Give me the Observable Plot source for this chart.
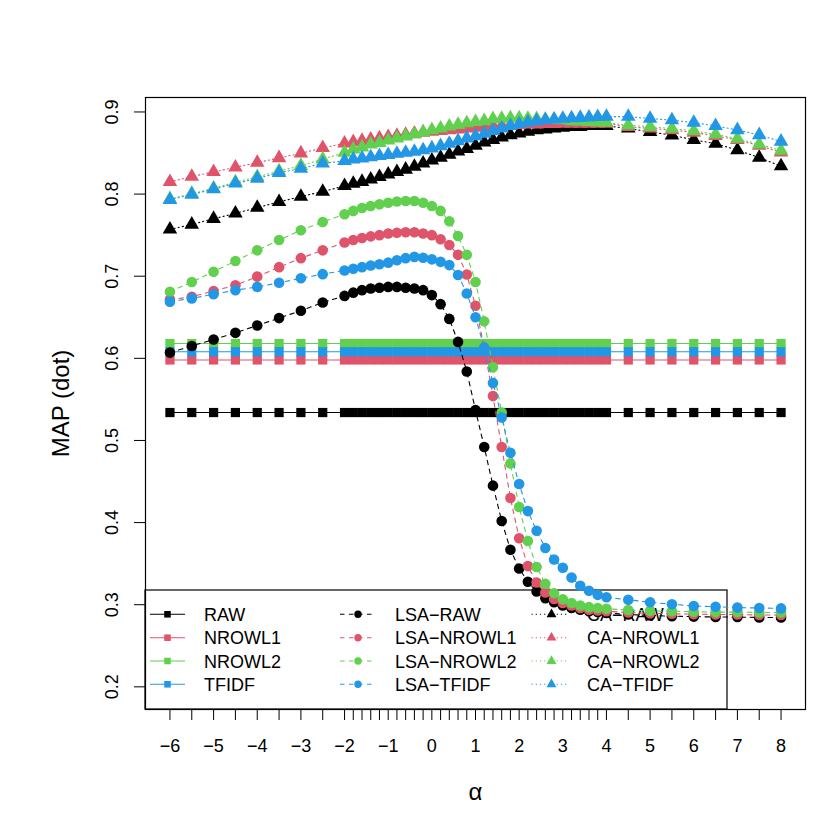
<!DOCTYPE html>
<html>
<head>
<meta charset="utf-8">
<script src="https://cdn.jsdelivr.net/npm/d3@7"></script>
<script src="https://cdn.jsdelivr.net/npm/@observablehq/plot@0.6"></script>
<style>
  html, body { margin: 0; padding: 0; background: #fff; }
  #chart svg { display: block; }
</style>
</head>
<body>
<div id="chart"></div>
<script>
// ---------------- data ----------------
const alpha = [
  -6, -5.5, -5, -4.5, -4, -3.5, -3, -2.5,
  -2, -1.8, -1.6, -1.4, -1.2, -1, -0.8, -0.6, -0.4, -0.2, 0, 0.2, 0.4, 0.6, 0.8, 1, 1.2, 1.4, 1.6, 1.8, 2, 2.2, 2.4, 2.6, 2.8, 3, 3.2, 3.4, 3.6, 3.8, 4,
  4.5, 5, 5.5, 6, 6.5, 7, 7.5, 8
];

// constant baselines (do not depend on alpha)
const rawBase = 0.534;
const nrowl1Base = 0.598;
const nrowl2Base = 0.618;
const tfidfBase = 0.608;

const lsaRaw = [
  0.607, 0.615, 0.623, 0.631, 0.640, 0.649, 0.658, 0.668,
  0.676, 0.680, 0.683, 0.685, 0.686, 0.687, 0.687, 0.686, 0.685, 0.683, 0.677, 0.666, 0.648, 0.620, 0.584, 0.537, 0.492, 0.445, 0.402, 0.367, 0.344, 0.328, 0.316, 0.308, 0.303, 0.299, 0.296, 0.294, 0.292, 0.291, 0.290,
  0.288, 0.287, 0.286, 0.2855, 0.285, 0.285, 0.2845, 0.2845
];
const lsaNrowl1 = [
  0.6715, 0.675, 0.682, 0.689, 0.6995, 0.711, 0.722, 0.7315,
  0.741, 0.744, 0.7465, 0.7485, 0.750, 0.752, 0.753, 0.7535, 0.7535, 0.752, 0.750, 0.745, 0.738, 0.726, 0.702, 0.664, 0.613, 0.554, 0.492, 0.430, 0.381, 0.347, 0.327, 0.315, 0.307, 0.302, 0.299, 0.296, 0.294, 0.293, 0.292,
  0.2905, 0.2895, 0.289, 0.2885, 0.288, 0.288, 0.2875, 0.2875
];
const lsaNrowl2 = [
  0.681, 0.693, 0.7055, 0.7185, 0.7315, 0.744, 0.756, 0.766,
  0.7755, 0.7795, 0.783, 0.7855, 0.7875, 0.7895, 0.791, 0.7915, 0.7915, 0.7895, 0.7855, 0.7795, 0.767, 0.749, 0.726, 0.693, 0.645, 0.589, 0.534, 0.472, 0.419, 0.3775, 0.346, 0.3255, 0.314, 0.3065, 0.302, 0.299, 0.297, 0.296, 0.295,
  0.2935, 0.2925, 0.292, 0.2915, 0.291, 0.291, 0.2905, 0.2905
];
const lsaTfidf = [
  0.669, 0.673, 0.678, 0.683, 0.687, 0.692, 0.6975, 0.7025,
  0.707, 0.709, 0.711, 0.713, 0.7145, 0.7165, 0.7195, 0.722, 0.7235, 0.7225, 0.7205, 0.7175, 0.7135, 0.7015, 0.679, 0.650, 0.613, 0.570, 0.528, 0.485, 0.447, 0.414, 0.390, 0.369, 0.355, 0.345, 0.333, 0.323, 0.317, 0.312, 0.309,
  0.306, 0.303, 0.3005, 0.2985, 0.2975, 0.2965, 0.296, 0.2955
];
const caRaw = [
  0.757, 0.763, 0.770, 0.7765, 0.7835, 0.7905, 0.797, 0.803,
  0.810, 0.8127, 0.815, 0.818, 0.821, 0.824, 0.827, 0.830, 0.8335, 0.8375, 0.841, 0.8445, 0.848, 0.852, 0.855, 0.859, 0.863, 0.866, 0.869, 0.872, 0.874, 0.876, 0.878, 0.879, 0.880, 0.881, 0.882, 0.882, 0.883, 0.883, 0.883,
  0.880, 0.8757, 0.8716, 0.866, 0.8615, 0.8535, 0.8445, 0.834
];
const caNrowl1 = [
  0.8148, 0.8213, 0.827, 0.8326, 0.8383, 0.844, 0.8497, 0.8562,
  0.8618, 0.8635, 0.865, 0.8665, 0.868, 0.8695, 0.871, 0.8725, 0.874, 0.875, 0.876, 0.877, 0.878, 0.879, 0.880, 0.881, 0.882, 0.883, 0.8835, 0.884, 0.8845, 0.885, 0.885, 0.8855, 0.8855, 0.886, 0.886, 0.886, 0.886, 0.886, 0.886,
  0.882, 0.880, 0.878, 0.875, 0.871, 0.866, 0.859, 0.851
];
const caNrowl2 = [
  0.794, 0.8005, 0.807, 0.8145, 0.821, 0.828, 0.8345, 0.8425,
  0.8505, 0.8545, 0.857, 0.8605, 0.8625, 0.8655, 0.868, 0.8705, 0.8728, 0.8755, 0.878, 0.880, 0.8825, 0.8845, 0.8865, 0.888, 0.889, 0.8915, 0.892, 0.8925, 0.8925, 0.892, 0.8915, 0.891, 0.8905, 0.890, 0.889, 0.8885, 0.888, 0.8875, 0.887,
  0.8838, 0.882, 0.8797, 0.877, 0.8728, 0.8675, 0.8606, 0.853
];
const caTfidf = [
  0.793, 0.7995, 0.806, 0.813, 0.819, 0.826, 0.831, 0.8375,
  0.8404, 0.8424, 0.8436, 0.845, 0.8465, 0.8477, 0.8493, 0.8505, 0.8517, 0.8535, 0.8558, 0.8586, 0.8615, 0.8647, 0.868, 0.8708, 0.8736, 0.877, 0.880, 0.883, 0.8855, 0.8875, 0.889, 0.890, 0.891, 0.892, 0.8925, 0.893, 0.8935, 0.894, 0.8943,
  0.8943, 0.892, 0.890, 0.887, 0.883, 0.878, 0.872, 0.864
];

const yTicks = [0.2, 0.3, 0.4, 0.5, 0.6, 0.7, 0.8, 0.9];
const xLabelTicks = [-6, -5, -4, -3, -2, -1, 0, 1, 2, 3, 4, 5, 6, 7, 8];

const baseNames = ["RAW", "NROWL1", "NROWL2", "TFIDF"];
const lsaNames = ["LSA\u2212RAW", "LSA\u2212NROWL1", "LSA\u2212NROWL2", "LSA\u2212TFIDF"];
const caNames = ["CA\u2212RAW", "CA\u2212NROWL1", "CA\u2212NROWL2", "CA\u2212TFIDF"];
const colors = ["#000000", "#DF536B", "#61D04F", "#2297E6"];

// ---------------- build tables ----------------
const baseValues = [rawBase, nrowl1Base, nrowl2Base, tfidfBase];
const baseSeries = baseValues.map((v, k) => alpha.map(a => ({alpha: a, map: v, name: baseNames[k]})));
const lsaSeries = [lsaRaw, lsaNrowl1, lsaNrowl2, lsaTfidf].map((vals, k) => alpha.map((a, i) => ({alpha: a, map: vals[i], name: lsaNames[k]})));
const caSeries = [caRaw, caNrowl1, caNrowl2, caTfidf].map((vals, k) => alpha.map((a, i) => ({alpha: a, map: vals[i], name: caNames[k]})));

// ---------------- layout ----------------
const W = 830, H = 830;
const mL = 145, mR = 25, mT = 97, mB = 121;
const dashLSA = "4.5,4.5";
const dashCA = "1.2,3";

const marks = [];
const groups = [
  {series: baseSeries, symbol: "square", r: 5.2, dash: null},
  {series: lsaSeries, symbol: "circle", r: 5.3, dash: dashLSA},
  {series: caSeries, symbol: "triangle", r: 5.4, dash: dashCA}
];
for (const g of groups) {
  g.series.forEach((rows, k) => {
    marks.push(Plot.line(rows, {x: "alpha", y: "map", stroke: colors[k], strokeWidth: 1.1, strokeDasharray: g.dash || undefined}));
    marks.push(Plot.dot(rows, {x: "alpha", y: "map", fill: colors[k], symbol: g.symbol, r: g.r}));
  });
}

const fmtX = d => xLabelTicks.includes(d) ? String(d).replace("-", "\u2212") : "";

const chart = Plot.plot({
  width: W,
  height: H,
  marginLeft: mL,
  marginRight: mR,
  marginTop: mT,
  marginBottom: mB,
  style: {fontFamily: "'Liberation Sans', Arial, Helvetica, sans-serif", fontSize: "18px", background: "#fff", color: "#000"},
  x: {domain: [-6.56, 8.56], label: null},
  y: {domain: [0.1724, 0.9176], label: null},
  marks: [
    Plot.axisX(alpha, {tickSize: 11, tickPadding: 19, tickFormat: fmtX, label: null, fontSize: 18}),
    Plot.axisY(yTicks, {tickSize: 11, tickFormat: () => "", label: null}),
    Plot.text(yTicks, {y: d => d, text: d => d.toFixed(1), frameAnchor: "left", dx: -28, rotate: -90, textAnchor: "middle", lineAnchor: "bottom", fontSize: 18}),
    Plot.text(["MAP (dot)"], {text: d => d, frameAnchor: "left", dx: -77, rotate: -90, textAnchor: "middle", lineAnchor: "bottom", fontSize: 24}),
    Plot.text(["\u03b1"], {text: d => d, frameAnchor: "bottom", dy: 90, lineAnchor: "bottom", fontSize: 24}),
    ...marks,
    Plot.frame({stroke: "#000", strokeWidth: 1.2})
  ]
});

document.getElementById("chart").appendChild(chart);

// ---------------- legend (drawn beneath the data, like the original) ----------------
const svg = d3.select(chart);
const lg = svg.append("g").attr("class", "legend").attr("text-anchor", "start");
const boxLeft = mL, boxRight = 727, boxTop = 590, boxBottom = H - mB;
lg.append("rect")
  .attr("x", boxLeft).attr("y", boxTop)
  .attr("width", boxRight - boxLeft).attr("height", boxBottom - boxTop)
  .attr("fill", "none").attr("stroke", "#000").attr("stroke-width", 1.2);

const colLine0 = [150, 340, 531.5];
const colLine1 = [185, 375, 568.5];
const colMark = [167.5, 358, 551.5];
const colText = [204, 395, 587];
const rowY = [614.3, 637.7, 661, 684.3];
const legendCols = [
  {names: baseNames, sym: d3.symbolSquare, dash: null},
  {names: lsaNames, sym: d3.symbolCircle, dash: dashLSA},
  {names: caNames, sym: d3.symbolTriangle, dash: dashCA}
];
const legR = 3.7;
legendCols.forEach((c, ci) => {
  c.names.forEach((nm, ri) => {
    const y = rowY[ri];
    lg.append("line")
      .attr("x1", colLine0[ci]).attr("x2", colLine1[ci])
      .attr("y1", y).attr("y2", y)
      .attr("stroke", colors[ri]).attr("stroke-width", 1.1)
      .attr("stroke-dasharray", c.dash);
    lg.append("path")
      .attr("d", d3.symbol(c.sym, Math.PI * legR * legR)())
      .attr("transform", `translate(${colMark[ci]},${y})`)
      .attr("fill", colors[ri]);
    lg.append("text")
      .attr("x", colText[ci]).attr("y", y + 6.5)
      .attr("font-size", 18)
      .attr("text-anchor", "start")
      .attr("fill", "#000")
      .text(nm);
  });
});
lg.lower();
</script>
</body>
</html>
